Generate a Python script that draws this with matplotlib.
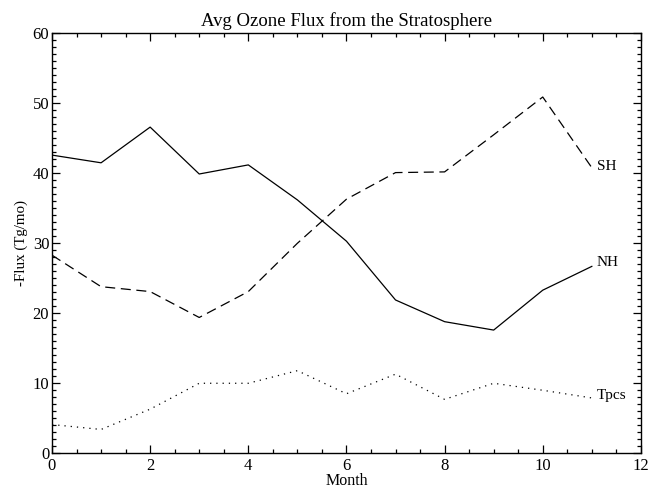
import matplotlib
matplotlib.use("Agg")
import matplotlib.pyplot as plt
from matplotlib.ticker import MultipleLocator

months = list(range(12))
nh = [42.6, 41.5, 46.6, 39.9, 41.2, 36.2, 30.3, 21.9, 18.8, 17.6, 23.3, 26.7]
sh = [28.3, 23.8, 23.1, 19.4, 23.1, 30.0, 36.3, 40.1, 40.2, 45.5, 50.9, 40.8]
tpcs = [4.1, 3.4, 6.3, 10.0, 10.0, 11.8, 8.5, 11.3, 7.7, 10.0, 9.0, 7.9]
labels = ["SH", "NH", "Tpcs"]
label_y = [41.0, 27.3, 8.3]

plt.rcParams['font.family'] = ['Liberation Serif', 'DejaVu Serif']

fig = plt.figure(figsize=(6.5, 4.9), dpi=100)
ax = fig.add_axes([0.08, 0.075, 0.906, 0.857])

lw = 0.9
ax.plot(months, nh, color='black', lw=lw, linestyle='-')
ax.plot(months, sh, color='black', lw=lw, linestyle=(0, (8, 4.5)))
ax.plot(months, tpcs, color='black', lw=lw, linestyle=(0, (1, 4)))

for lab, yv in zip(labels, label_y):
    ax.text(11.1, yv, lab, ha='left', va='center', fontsize=11)

ax.set_xlim(0, 12)
ax.set_ylim(0, 60)
ax.xaxis.set_major_locator(MultipleLocator(2))
ax.xaxis.set_minor_locator(MultipleLocator(0.5))
ax.yaxis.set_major_locator(MultipleLocator(10))
ax.yaxis.set_minor_locator(MultipleLocator(1))
ax.tick_params(which='both', direction='in', top=True, right=True, labelsize=12, width=0.9)
ax.tick_params(which='major', length=5.5, pad=2)
ax.tick_params(axis='x', which='major', pad=3.5)
ax.tick_params(which='minor', length=3)
for s in ax.spines.values():
    s.set_linewidth(1.0)

ax.set_title("Avg Ozone Flux from the Stratosphere", fontsize=13.5, pad=5)
ax.set_xlabel("Month", fontsize=11.5, labelpad=-0.5)
ax.set_ylabel("-Flux (Tg/mo)", fontsize=10.8, labelpad=3.5)

fig.savefig("out.png", dpi=100)
